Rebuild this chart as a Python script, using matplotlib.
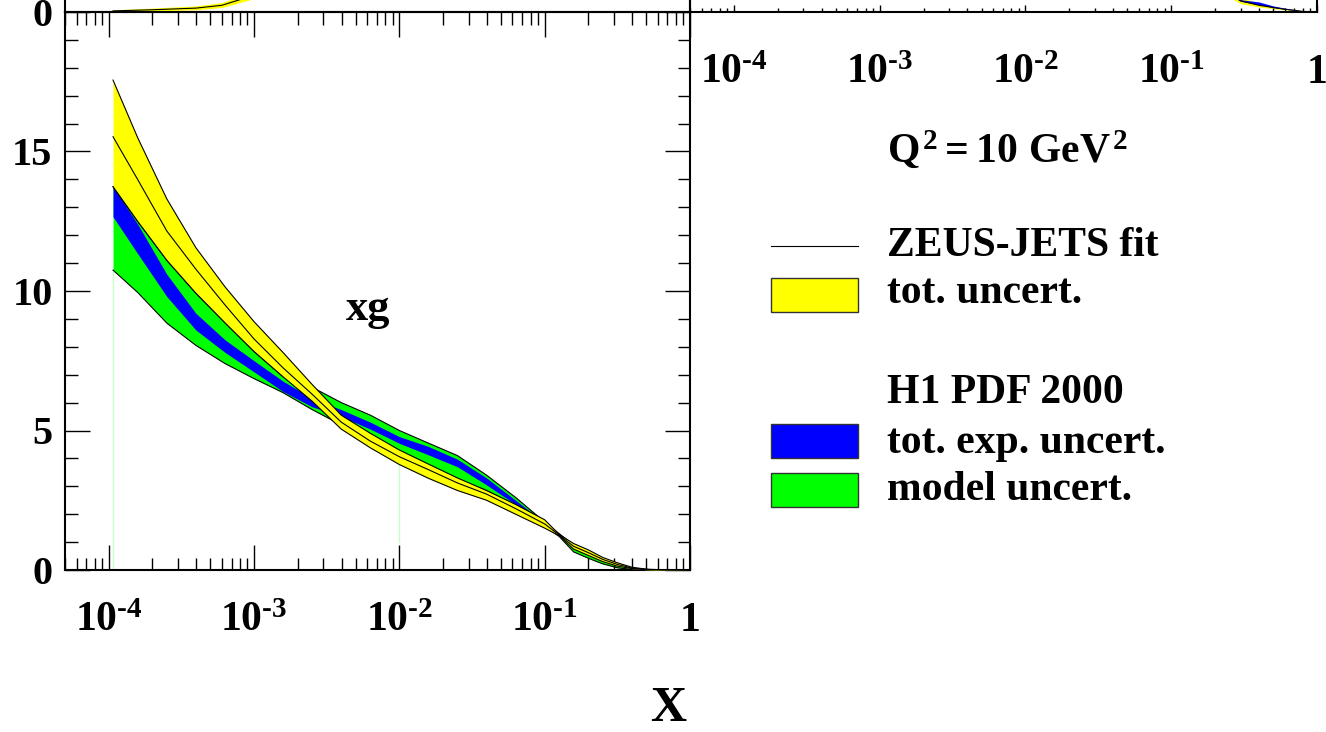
import numpy as np
import matplotlib
matplotlib.use('Agg')
import matplotlib.pyplot as plt
from matplotlib.ticker import LogLocator, NullFormatter
from matplotlib.patches import Rectangle

plt.rcParams['font.family'] = ['Liberation Serif', 'DejaVu Serif']
plt.rcParams['font.weight'] = 'bold'
plt.rcParams['mathtext.fontset'] = 'custom'
plt.rcParams['mathtext.rm'] = 'Liberation Serif:bold'
plt.rcParams['mathtext.it'] = 'Liberation Serif:bold'
plt.rcParams['mathtext.bf'] = 'Liberation Serif:bold'

# x grid of the xg curves
x_vals = [1.07e-4, 1.58e-4, 2.51e-4, 3.98e-4, 6.31e-4, 1.0e-3, 1.58e-3, 2.51e-3,
          3.98e-3, 6.31e-3, 1.0e-2, 1.58e-2, 2.51e-2, 3.98e-2, 6.31e-2, 0.1,
          0.126, 0.158, 0.2, 0.251, 0.316, 0.398, 0.501, 0.631, 1.0]

# ZEUS-JETS fit, central value and total uncertainty band
zeus_hi = [17.56, 15.5, 13.3, 11.55, 10.15, 8.9, 7.8, 6.65, 5.55, 4.9, 4.3, 3.8, 3.3,
           2.85, 2.35, 1.8, 1.27, 0.95, 0.72, 0.45, 0.26, 0.1, 0.03, 0.01, 0.0]
zeus_c = [15.53, 14.0, 12.15, 10.78, 9.5, 8.28, 7.25, 6.3, 5.3, 4.62, 4.06, 3.6, 3.12,
          2.72, 2.2, 1.65, 1.25, 0.85, 0.62, 0.38, 0.2, 0.07, 0.02, 0.005, 0.0]
zeus_lo = [13.74, 12.5, 11.1, 9.92, 8.86, 7.83, 6.93, 6.05, 5.05, 4.38, 3.78, 3.29, 2.85,
           2.5, 2.0, 1.5, 1.23, 0.75, 0.52, 0.3, 0.14, 0.05, 0.01, 0.0, 0.0]

# H1 PDF 2000: experimental band (blue) and model band (green)
h1_exp_hi = [13.74, 12.4, 10.6, 9.2, 8.25, 7.5, 6.77, 6.15, 5.75, 5.3, 4.78, 4.43, 3.97,
             3.3, 2.5, 1.7, 1.3, 0.93, 0.68, 0.42, 0.22, 0.08, 0.02, 0.005, 0.0]
h1_exp_lo = [12.66, 11.34, 9.8, 8.6, 7.8, 7.1, 6.4, 5.85, 5.5, 5.05, 4.54, 4.13, 3.7,
             3.05, 2.35, 1.62, 1.22, 0.85, 0.6, 0.36, 0.18, 0.06, 0.015, 0.0, 0.0]
h1_mod_hi = [13.74, 12.5, 11.1, 9.92, 8.86, 7.83, 6.93, 6.55, 6.0, 5.55, 5.0, 4.55, 4.1,
             3.4, 2.6, 1.72, 1.3, 0.9, 0.65, 0.4, 0.2, 0.07, 0.02, 0.005, 0.0]
h1_mod_lo = [10.75, 9.95, 8.85, 8.05, 7.4, 6.86, 6.36, 5.75, 5.2, 4.7, 4.15, 3.7, 3.2,
             2.85, 2.25, 1.55, 1.2, 0.65, 0.42, 0.22, 0.08, 0.02, 0.0, 0.0, 0.0]

# bits of the neighbouring panels that show at the top edge
tl_x = [1.07e-4, 2.0e-4, 4.0e-4, 6.0e-4, 1.0e-3, 3.0e-3]
tl_c = [0.002, 0.004, 0.007, 0.012, 0.03, 0.1]
tl_hi = [0.004, 0.007, 0.011, 0.017, 0.037, 0.11]
tl_lo = [0.0005, 0.002, 0.004, 0.008, 0.024, 0.09]

tr_x = [0.1, 0.2, 0.3, 0.4, 0.5, 0.6, 0.7, 0.8, 1.0]
tr_c = [0.12, 0.05, 0.02, 0.012, 0.008, 0.005, 0.003, 0.001, 0.0]
tr_hi = [0.14, 0.06, 0.026, 0.016, 0.01, 0.006, 0.004, 0.0015, 0.0]
tr_lo = [0.1, 0.04, 0.015, 0.009, 0.006, 0.004, 0.002, 0.0005, 0.0]
tr_exp_hi = [0.13, 0.055, 0.022, 0.018, 0.011, 0.007, 0.004, 0.0015, 0.0]
tr_exp_lo = [0.11, 0.045, 0.019, 0.013, 0.008, 0.005, 0.003, 0.0008, 0.0]

x_ticks = [1e-4, 1e-3, 1e-2, 1e-1, 1]
x_ticklabels = [r'$10^{\text{-}4}$', r'$10^{\text{-}3}$', r'$10^{\text{-}2}$',
                r'$10^{\text{-}1}$', '1']
y_ticks = [0, 5, 10, 15, 20]
y_ticklabels = ['0', '5', '10', '15', '']

YELLOW = '#ffff00'
BLUE = '#0000ff'
GREEN = '#00ff00'

W, H = 1326, 732


def box(left, top, right, bottom):
    return [left / W, 1 - bottom / H, (right - left) / W, (bottom - top) / H]


def log_xaxis(ax):
    ax.set_xscale('log')
    ax.set_xlim(5e-5, 1)
    ax.xaxis.set_minor_locator(LogLocator(base=10, subs=np.arange(2, 10)))
    ax.xaxis.set_minor_formatter(NullFormatter())
    ax.set_xticks(x_ticks)
    ax.set_xticklabels(x_ticklabels)


fig = plt.figure(figsize=(W / 100, H / 100), dpi=100)

# main panel
ax = fig.add_axes(box(65, 12, 690, 570))
x = np.array(x_vals)
ax.plot([x[0], x[0]], [0, h1_mod_lo[0]], color='#c8ffc8', lw=1, zorder=0.5)
ax.plot([x[10], x[10]], [1.0, zeus_lo[10]], color='#c8ffc8', lw=1, zorder=0.5)
ax.fill_between(x, h1_mod_lo, h1_mod_hi, color=GREEN, lw=0, zorder=1)
ax.fill_between(x, h1_exp_lo, h1_exp_hi, color=BLUE, lw=0, zorder=2)
ax.plot(x, h1_mod_lo, color='black', lw=0.8, zorder=2.5)
ax.plot(x, h1_mod_hi, color='black', lw=0.8, zorder=2.5)
ax.fill_between(x, zeus_lo, zeus_hi, color=YELLOW, lw=0, zorder=3)
for yy in (zeus_lo, zeus_c, zeus_hi):
    ax.plot(x, yy, color='black', lw=0.8, zorder=4)

log_xaxis(ax)
ax.set_ylim(0, 20)
ax.set_yticks(y_ticks)
ax.set_yticklabels(y_ticklabels)
ax.yaxis.set_minor_locator(plt.MultipleLocator(1))
ax.tick_params(which='both', direction='in', top=True, right=True, width=1)
ax.tick_params(which='major', length=18)
ax.tick_params(which='minor', length=9)
ax.tick_params(axis='x', which='major', pad=23, labelsize=30)
ax.tick_params(axis='y', which='major', pad=9, labelsize=29)
for s in ax.spines.values():
    s.set_linewidth(1.5)

# panel above (only its bottom edge is in the picture)
ax_tl = fig.add_axes(box(65, -546, 690, 12))
ax_tl.fill_between(tl_x, tl_lo, tl_hi, color=YELLOW, lw=0)
ax_tl.plot(tl_x, tl_c, color='black', lw=0.8)
log_xaxis(ax_tl)
ax_tl.set_ylim(0, 1)
ax_tl.set_yticks([0])
ax_tl.set_yticklabels(['0'])
ax_tl.tick_params(axis='x', which='both', length=0, labelbottom=False)
ax_tl.tick_params(axis='y', length=0, labelsize=29, pad=9)
ax_tl.patch.set_alpha(0)
for s in ax_tl.spines.values():
    s.set_linewidth(1.5)

# panel to the upper right (only its x axis is in the picture)
ax_tr = fig.add_axes(box(690, -546, 1317, 12))
ax_tr.fill_between(tr_x, tr_lo, tr_hi, color=YELLOW, lw=0)
ax_tr.fill_between(tr_x, tr_exp_lo, tr_exp_hi, color=BLUE, lw=0)
ax_tr.plot(tr_x, tr_c, color='black', lw=0.8)
log_xaxis(ax_tr)
ax_tr.set_ylim(0, 1)
ax_tr.set_yticks([])
ax_tr.tick_params(axis='x', which='both', direction='in', width=1, labelsize=30,
                  pad=30)
ax_tr.tick_params(axis='x', which='major', length=5)
ax_tr.tick_params(axis='x', which='minor', length=3)
ax_tr.patch.set_alpha(0)
for s in ax_tr.spines.values():
    s.set_linewidth(1.5)

# axis title, panel label and legend, placed in pixel coordinates
ov = fig.add_axes([0, 0, 1, 1])
ov.set_xlim(0, W)
ov.set_ylim(H, 0)
ov.axis('off')
ov.text(368, 320, 'xg', fontsize=32, fontweight='bold', ha='center', va='baseline')
ov.text(668, 721, 'X', fontsize=36, fontweight='bold', ha='center', va='baseline')
ov.text(887, 163, r'$Q^2 = 10\ GeV^2$', fontsize=30, va='baseline')
ov.plot([771, 858], [246, 246], color='black', lw=0.8)
ov.add_patch(Rectangle((771, 278), 87, 34, facecolor=YELLOW, edgecolor='#333333', lw=1))
ov.add_patch(Rectangle((771, 424), 87, 34, facecolor=BLUE, edgecolor='#333333', lw=1))
ov.add_patch(Rectangle((771, 473), 87, 34, facecolor=GREEN, edgecolor='#333333', lw=1))
ov.text(887, 256, 'ZEUS-JETS fit', fontsize=30, fontweight='bold', va='baseline')
ov.text(887, 303, 'tot. uncert.', fontsize=30, fontweight='bold', va='baseline')
ov.text(887, 403, 'H1 PDF 2000', fontsize=30, fontweight='bold', va='baseline')
ov.text(887, 453, 'tot. exp. uncert.', fontsize=30, fontweight='bold', va='baseline')
ov.text(887, 500, 'model uncert.', fontsize=30, fontweight='bold', va='baseline')

fig.savefig('out.png', dpi=100)
